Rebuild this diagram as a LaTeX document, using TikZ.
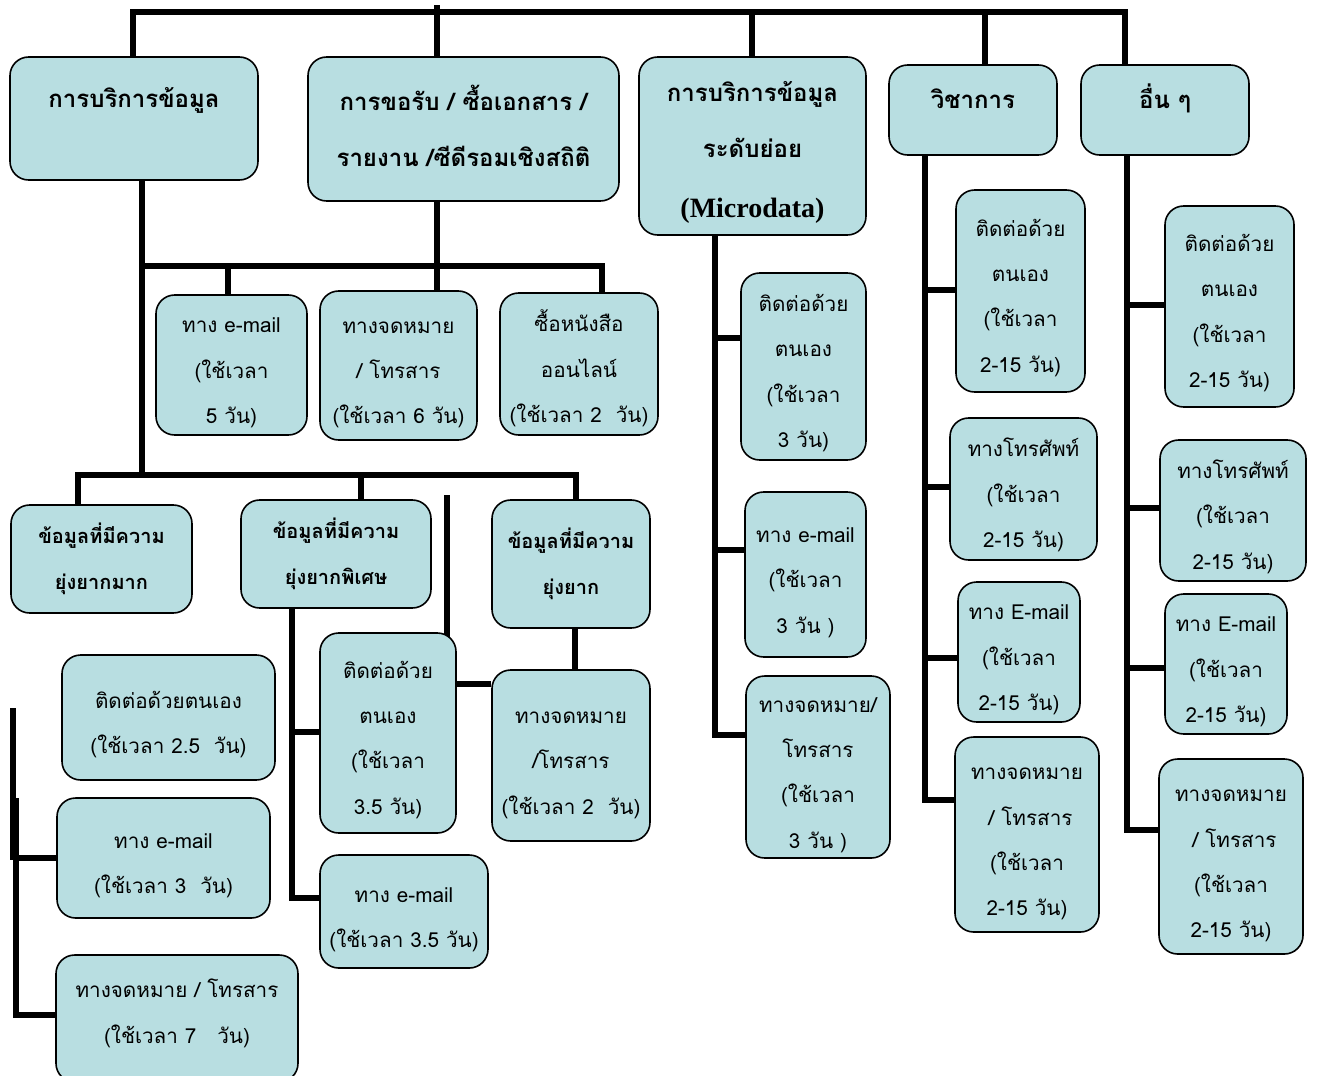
\documentclass[tikz,border=0pt]{standalone}
\usepackage{fontspec}
\usetikzlibrary{fit}
\newfontfamily\thai[Script=Thai]{Loma}
\newfontfamily\tnr{Liberation Serif}
\definecolor{boxfill}{HTML}{B8DEE1}
% empty first line, to push the text down inside its box
\newcommand{\lead}[1]{\mbox{}\\[#1]}
\tikzset{
  box/.style={draw, line width=1.2pt, rounded corners=14pt, fill=boxfill, inner sep=0pt, align=center},
  head/.style={box, font=\thai\bfseries\fontsize{18}{42}\selectfont},
  subhead/.style={box, font=\thai\bfseries\fontsize{15}{34}\selectfont},
  item/.style={box, font=\thai\fontsize{15.5}{34}\selectfont},
  link/.style={line width=3.8pt}
}
\begin{document}
\begin{tikzpicture}[x=0.75pt,y=-0.75pt,line join=miter]
  \useasboundingbox (0,0) rectangle (1317,1075);

  % Main groups along the top bar.
  \node[head, fit={(10,57) (258,180)}] (b1) {\lead{-27pt}การบริการข้อมูล\\[-10pt]~};
  \node[head, fit={(308,57) (619,201)}] (b2) {\lead{-27pt}การขอรับ / ซื้อเอกสาร /\\รายงาน /ซีดีรอมเชิงสถิติ};
  \node[head, fit={(639,57) (866,235)}] (b3) {\lead{-18pt}การบริการข้อมูล\\ระดับย่อย\\[3pt]{\tnr\bfseries\fontsize{21}{42}\selectfont (Microdata)}};
  \node[head, fit={(889,65) (1057,155)}] (b4) {\lead{-27pt}วิชาการ\\[-24pt]~};
  \node[head, fit={(1081,65) (1249,155)}] (b5) {\lead{-27pt}อื่น ๆ\\[-24pt]~};

  \coordinate (barL) at (133,12);
  \coordinate (barR) at (1125,12);
  \draw[link] (b1.north -| barL) -- (barL) -- (barR) -- (b5.north -| barR);
  \draw[link] (437,5) -- (b2.north -| 437,5);
  \draw[link] (752,12) -- (b3.north -| 752,12);
  \draw[link] (985,12) -- (b4.north -| 985,12);

  % Channels for ordering documents.
  \node[item, fit={(156,295) (307,435)}] (c1) {\lead{-11pt}ทาง e-mail\\(ใช้เวลา\\5 วัน)};
  \node[item, fit={(320,291) (477,440)}] (c2) {\lead{-11pt}ทางจดหมาย\\/ โทรสาร\\(ใช้เวลา 6 วัน)};
  \node[item, fit={(500,293) (658,435)}] (c3) {\lead{-11pt}ซื้อหนังสือ\\ออนไลน์\\(ใช้เวลา 2~~วัน)};

  \coordinate (t1) at (142,475);
  \draw[link] (b1.south -| t1) -- (t1);
  \draw[link] (142,266) -- (602,266) -- (c3.north -| 602,266);
  \draw[link] (b2.south -| 437,0) -- (c2.north -| 437,0);
  \draw[link] (228,266) -- (c1.north -| 228,266);

  % Levels of difficulty.
  \node[subhead, fit={(11,505) (192,613)}] (d1) {\lead{-19pt}ข้อมูลที่มีความ\\ยุ่งยากมาก};
  \node[subhead, fit={(241,500) (431,608)}] (d2) {\lead{-19pt}ข้อมูลที่มีความ\\ยุ่งยากพิเศษ};
  \node[subhead, fit={(492,500) (650,628)}] (d3) {\lead{-19pt}ข้อมูลที่มีความ\\ยุ่งยาก};

  \draw[link] (d1.north -| 78,0) -- (78,475) -- (576,475) -- (d3.north -| 576,0);
  \draw[link] (361,475) -- (d2.north -| 361,0);
  \draw[link] (447,495) -- (447,640);

  % Very difficult data.
  \node[item, fit={(62,655) (275,780)}] (e1) {\lead{-11pt}ติดต่อด้วยตนเอง\\(ใช้เวลา 2.5~~วัน)};
  \node[item, fit={(57,798) (270,918)}] (e2) {\lead{-11pt}ทาง e-mail\\(ใช้เวลา 3~~วัน)};
  \node[item, fit={(56,955) (298,1082)}] (e3) {\lead{-11pt}ทางจดหมาย / โทรสาร\\(ใช้เวลา 7~~~วัน)\\[-14pt]~};

  \draw[link] (13,708) -- (13,860);
  \draw[link] (16,798) -- (16,1015) -- (e3.west |- 16,1015);
  \draw[link] (13,858) -- (e2.west |- 13,858);

  % Specially difficult data.
  \node[item, fit={(320,633) (456,833)}] (f1) {\lead{-11pt}ติดต่อด้วย\\ตนเอง\\(ใช้เวลา\\3.5 วัน)};
  \node[item, fit={(320,855) (488,968)}] (f2) {\lead{-11pt}ทาง e-mail\\(ใช้เวลา 3.5 วัน)};

  \draw[link] (d2.south -| 292,0) -- (292,898) -- (f2.west |- 292,898);
  \draw[link] (292,732) -- (f1.west |- 292,732);

  % Difficult data.
  \node[item, fit={(492,670) (650,841)}] (g1) {\lead{-11pt}ทางจดหมาย\\/โทรสาร\\(ใช้เวลา 2~~วัน)};

  \draw[link] (d3.south -| 575,0) -- (g1.north -| 575,0);
  \draw[link] (f1.east |- 0,684) -- (g1.west |- 0,684);

  % Microdata.
  \node[item, fit={(741,273) (866,460)}] (h1) {\lead{-11pt}ติดต่อด้วย\\ตนเอง\\(ใช้เวลา\\3 วัน)};
  \node[item, fit={(745,492) (866,657)}] (h2) {\lead{-11pt}ทาง e-mail\\(ใช้เวลา\\3 วัน )};
  \node[item, fit={(746,676) (890,858)}] (h3) {\lead{-11pt}ทางจดหมาย/\\โทรสาร\\(ใช้เวลา\\3 วัน )};

  \draw[link] (b3.south -| 715,0) -- (715,735) -- (h3.west |- 715,735);
  \draw[link] (715,338) -- (h1.west |- 715,338);
  \draw[link] (715,550) -- (h2.west |- 715,550);

  % Academic.
  \node[item, fit={(956,190) (1085,392)}] (i1) {\lead{-11pt}ติดต่อด้วย\\ตนเอง\\(ใช้เวลา\\2-15 วัน)};
  \node[item, fit={(950,418) (1097,560)}] (i2) {\lead{-11pt}ทางโทรศัพท์\\(ใช้เวลา\\2-15 วัน)};
  \node[item, fit={(958,582) (1080,722)}] (i3) {\lead{-11pt}ทาง E-mail\\(ใช้เวลา\\2-15 วัน)};
  \node[item, fit={(955,737) (1099,932)}] (i4) {\lead{-11pt}ทางจดหมาย\\~/ โทรสาร\\(ใช้เวลา\\2-15 วัน)};

  \draw[link] (b4.south -| 925,0) -- (925,800) -- (i4.west |- 925,800);
  \draw[link] (925,290) -- (i1.west |- 925,290);
  \draw[link] (925,487) -- (i2.west |- 925,487);
  \draw[link] (925,658) -- (i3.west |- 925,658);

  % Others.
  \node[item, fit={(1165,206) (1294,407)}] (j1) {\lead{-11pt}ติดต่อด้วย\\ตนเอง\\(ใช้เวลา\\2-15 วัน)};
  \node[item, fit={(1160,440) (1306,581)}] (j2) {\lead{-11pt}ทางโทรศัพท์\\(ใช้เวลา\\2-15 วัน)};
  \node[item, fit={(1165,594) (1287,734)}] (j3) {\lead{-11pt}ทาง E-mail\\(ใช้เวลา\\2-15 วัน)};
  \node[item, fit={(1159,759) (1303,954)}] (j4) {\lead{-11pt}ทางจดหมาย\\~/ โทรสาร\\(ใช้เวลา\\2-15 วัน)};

  \draw[link] (b5.south -| 1127,0) -- (1127,830) -- (j4.west |- 1127,830);
  \draw[link] (1127,305) -- (j1.west |- 1127,305);
  \draw[link] (1127,508) -- (j2.west |- 1127,508);
  \draw[link] (1127,668) -- (j3.west |- 1127,668);
\end{tikzpicture}
\end{document}
